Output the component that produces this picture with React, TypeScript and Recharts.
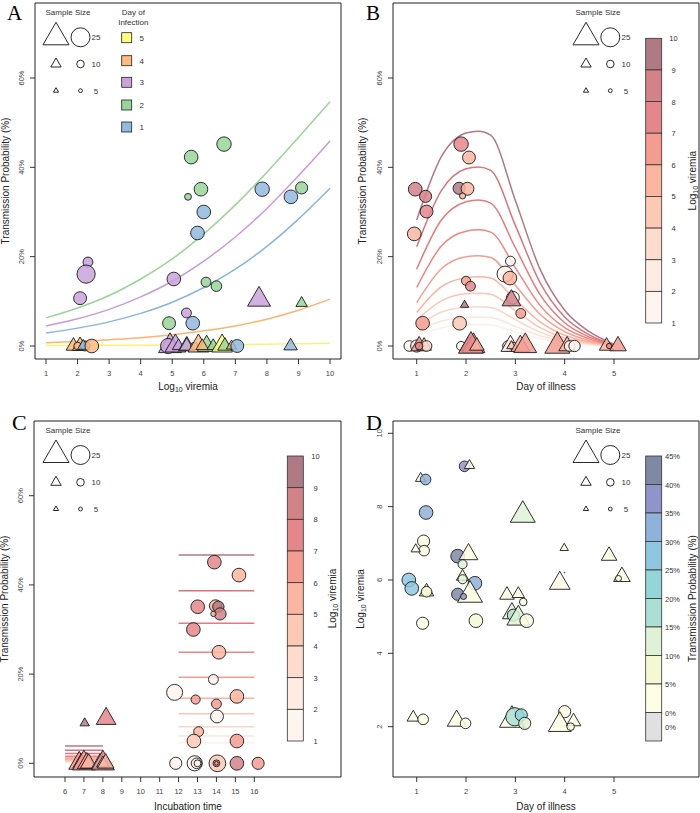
import React from 'react';
import { ComposedChart, Scatter, Line, XAxis, YAxis, ReferenceArea } from 'recharts';

const FONT = '"Liberation Sans", Arial, sans-serif';
const SERIF = '"Liberation Serif", "Times New Roman", serif';

// ---------- shared ----------
const pctTicks = [0, 20, 40, 60];
const sizeLegendValues = [25, 10, 5];
const viremiaLabels = [10, 9, 8, 7, 6, 5, 4, 3, 2, 1];
const probLabels = ['45%', '40%', '35%', '30%', '25%', '20%', '15%', '10%', '5%', '0%'];
const dayLabels = [5, 4, 3, 2, 1];

// ---------- Panel A ----------
const aXTicks = [1, 2, 3, 4, 5, 6, 7, 8, 9, 10];
const aCurveX = [1, 2, 3, 4, 5, 6, 7, 8, 9, 10];
const aCurveDay2 = [6.3, 8.5, 11.3, 15.0, 19.5, 25.1, 31.6, 38.9, 46.7, 54.7];
const aCurveDay3 = [4.5, 6.1, 8.2, 11.0, 14.5, 19.0, 24.4, 30.8, 38.1, 45.9];
const aCurveDay1 = [2.9, 4.0, 5.4, 7.3, 9.8, 13.1, 17.2, 22.3, 28.4, 35.3];
const aCurveDay4 = [0.75, 1.0, 1.4, 1.85, 2.5, 3.4, 4.5, 6.0, 8.0, 10.5];
const aCurveDay5 = [0.1, 0.12, 0.15, 0.18, 0.22, 0.27, 0.33, 0.4, 0.5, 0.6];
// [log10 viremia, probability %, sample size, shape, day of infection]
const aPoints: [number, number, number, string, number][] = [
  [6.64, 45.2, 19, 'c', 2], [5.6, 42.3, 18, 'c', 2], [5.91, 35.1, 18, 'c', 2], [5.5, 33.4, 9, 'c', 2],
  [7.85, 35.1, 19, 'c', 1], [8.76, 33.4, 18, 'c', 1], [9.1, 35.4, 16, 'c', 2], [6.0, 30.0, 18, 'c', 1],
  [5.8, 25.3, 18, 'c', 1], [2.33, 18.8, 13, 'c', 3], [2.27, 16.1, 24, 'c', 3], [2.08, 10.7, 17, 'c', 3],
  [5.05, 15.0, 18, 'c', 3], [6.07, 14.3, 13, 'c', 2], [6.4, 13.4, 14, 'c', 2], [5.45, 7.4, 13, 'c', 3],
  [4.9, 5.1, 17, 'c', 2], [5.65, 5.1, 18, 'c', 1], [7.75, 10.4, 22, 't', 3], [9.1, 9.6, 11, 't', 2],
  [1.87, 0, 14, 't', 4], [2.08, 0, 15, 't', 4], [2.0, 0, 10, 'c', 4], [2.24, 0, 13, 'c', 1],
  [2.18, 0, 11, 't', 1], [2.45, 0, 18, 'c', 4], [4.93, 0, 22, 't', 3], [4.87, 0, 20, 'c', 3],
  [5.1, 0, 20, 't', 3], [5.2, 0, 12, 't', 3], [5.46, 0, 16, 't', 2], [5.46, 0, 14, 't', 3],
  [5.7, 0, 10, 'c', 3], [5.83, 0, 20, 't', 4], [6.09, 0, 18, 't', 2], [5.95, 0, 12, 't', 4],
  [6.3, 0, 12, 't', 2], [6.58, 0, 20, 't', 5], [6.67, 0, 14, 't', 2], [6.88, 0, 10, 't', 4],
  [7.06, 0, 17, 'c', 1], [8.75, 0, 13, 't', 1],
];

// ---------- Panel B ----------
const bXTicks = [1, 2, 3, 4, 5];
const bCurveX = [1, 1.5, 2, 2.25, 2.5, 3, 3.5, 4, 4.5, 5];
const bCurveV10 = [28.2, 42.4, 47.7, 48.1, 47.2, 32.6, 17.2, 8.0, 3.2, 0.4];
const bCurveV9 = [22.2, 34.8, 39.7, 40.1, 39.3, 27.0, 14.2, 6.5, 2.5, 0.3];
const bCurveV8 = [17.2, 28.2, 32.3, 32.7, 32.0, 22.0, 11.5, 5.2, 2.0, 0.3];
const bCurveV7 = [13.1, 22.4, 25.7, 26.0, 25.5, 17.5, 9.1, 4.1, 1.6, 0.2];
const bCurveV6 = [9.7, 17.3, 20.0, 20.2, 19.8, 13.6, 7.1, 3.2, 1.2, 0.2];
const bCurveV5 = [7.5, 13.3, 15.3, 15.5, 15.2, 10.4, 5.4, 2.4, 0.9, 0.1];
const bCurveV4 = [5.8, 10.1, 11.7, 11.8, 11.6, 7.9, 4.1, 1.8, 0.7, 0.1];
const bCurveV3 = [4.3, 7.6, 8.7, 8.8, 8.6, 5.9, 3.1, 1.4, 0.5, 0.1];
const bCurveV2 = [3.2, 5.6, 6.4, 6.5, 6.4, 4.4, 2.3, 1.0, 0.4, 0.1];
const bCurveV1 = [2.4, 4.1, 4.75, 4.8, 4.7, 3.2, 1.7, 0.8, 0.3, 0.05];
// [day of illness, probability %, sample size, shape, log10 viremia]
const bPoints: [number, number, number, string, number][] = [
  [1.9, 45.2, 19, 'c', 7.5], [2.06, 42.2, 17, 'c', 5.5], [0.97, 35.1, 18, 'c', 8.3], [1.18, 33.5, 16, 'c', 8.5],
  [1.86, 35.3, 16, 'c', 9.5], [2.03, 35.2, 17, 'c', 5.5], [1.93, 33.6, 8, 'c', 5.5], [1.2, 30.1, 17, 'c', 7],
  [0.95, 25.1, 18, 'c', 5.5], [2.0, 14.6, 12, 'c', 6.5], [2.09, 13.4, 13, 'c', 7], [2.9, 19.0, 13, 'c', 1.5],
  [2.79, 16.1, 21, 'c', 1.5], [2.89, 15.2, 18, 'c', 5.5], [2.95, 10.8, 17, 'c', 1.5], [2.92, 10.2, 18, 't', 8.5],
  [1.97, 9.2, 8, 't', 9.5], [3.11, 7.3, 13, 'c', 6.5], [1.12, 5.1, 18, 'c', 6.5], [1.87, 5.1, 18, 'c', 4.5],
  [0.85, 0, 14, 'c', 1.5], [1.0, 0, 16, 'c', 2.5], [1.05, 0, 16, 't', 6.5], [1.15, 0, 14, 't', 5.5],
  [1.2, 0, 14, 'c', 3.5], [1.05, 0, 10, 'c', 7], [1.9, 0, 12, 'c', 1.5], [2.05, 0, 16, 't', 7],
  [2.15, 0, 22, 't', 6.5], [2.1, 0, 24, 't', 7.5], [2.22, 0, 14, 't', 5], [2.85, 0, 14, 'c', 3.5],
  [2.9, 0, 18, 't', 1.5], [2.95, 0, 10, 'c', 2.5], [2.92, 0, 9, 't', 4.5], [3.1, 0, 18, 't', 5.5],
  [3.2, 0, 22, 't', 6], [3.85, 0, 24, 't', 6], [4.05, 0, 16, 't', 5], [4.1, 0, 14, 'c', 1.5],
  [4.2, 0, 15, 'c', 1.5], [4.85, 0, 14, 't', 5.5], [4.9, 0, 7, 'c', 7], [5.08, 0, 16, 't', 6],
];

// ---------- Panel C ----------
const cXTicks = [6, 7, 8, 9, 10, 11, 12, 13, 14, 15, 16];
const cUpperRange = [12, 16];
const cUpperLevels = [46.7, 38.7, 31.4, 24.9, 19.3, 14.6, 11.1, 8.2, 6.1, 4.6];
const cLowerRange = [6, 8];
const cLowerLevels = [3.9, 2.9, 2.2, 1.6, 1.2, 0.9, 0.65, 0.5, 0.35, 0.25];
// [incubation time, probability %, sample size, shape, log10 viremia]
const cPoints: [number, number, number, string, number][] = [
  [13.89, 45.1, 18, 'c', 7], [15.19, 42.2, 18, 'c', 5.5], [13.01, 35.1, 18, 'c', 7.5], [13.95, 35.3, 16, 'c', 5.5],
  [14.1, 35.1, 15, 'c', 9.5], [14.19, 33.5, 16, 'c', 8], [13.84, 33.5, 7, 'c', 5.5], [12.78, 30.0, 18, 'c', 7],
  [14.13, 24.9, 18, 'c', 5.5], [13.84, 18.8, 13, 'c', 1.5], [11.79, 15.9, 21, 'c', 1.5], [12.9, 14.3, 12, 'c', 6.5],
  [15.08, 15.0, 18, 'c', 5.5], [14.0, 13.3, 13, 'c', 6.5], [14.03, 10.5, 17, 'c', 1.5], [13.06, 7.1, 13, 'c', 5.5],
  [12.81, 5.0, 18, 'c', 4.5], [15.08, 5.0, 18, 'c', 6], [7.04, 9.0, 9, 't', 9.5], [8.17, 10.0, 19, 't', 7.5],
  [6.75, 0, 20, 't', 6.5], [6.85, 0, 16, 't', 7.5], [7.0, 0, 22, 't', 6], [7.15, 0, 18, 't', 6.5],
  [7.25, 0, 16, 't', 5.5], [7.85, 0, 16, 't', 1.5], [8.0, 0, 22, 't', 8.5], [8.0, 0, 12, 't', 4.5],
  [8.15, 0, 16, 't', 5], [11.85, 0, 16, 'c', 1.5], [12.85, 0, 20, 'c', 1.5], [12.95, 0, 14, 'c', 2.5],
  [13.0, 0, 9, 'c', 1.5], [14.05, 0, 22, 'c', 4.5], [14.0, 0, 9, 'c', 7], [14.0, 0, 5, 'c', 6],
  [15.08, 0, 18, 'c', 8.5], [16.2, 0, 16, 'c', 6],
];

// ---------- Panel D ----------
const dYTicks = [2, 4, 6, 8, 10];
// [day of illness, log10 viremia, sample size, shape, probability %]
const dPoints: [number, number, number, string, number][] = [
  [1.97, 9.1, 14, 'c', 37], [2.07, 9.12, 10, 't', 2], [1.08, 8.77, 10, 't', 2], [1.18, 8.74, 14, 'c', 33],
  [1.19, 7.84, 18, 'c', 33], [3.15, 7.77, 24, 't', 12], [1.14, 7.06, 16, 'c', 3], [1.15, 6.8, 14, 'c', 3],
  [0.98, 6.84, 9, 't', 3], [1.83, 6.65, 18, 'c', 42], [2.05, 6.7, 18, 't', 3], [1.93, 6.43, 12, 'c', 14],
  [3.99, 6.87, 8, 't', 2], [4.9, 6.66, 15, 't', 2], [4.0, 6.2, 1, 'c', 2], [3.9, 5.91, 20, 't', 2],
  [5.16, 6.09, 16, 't', 2], [5.09, 6.04, 8, 'c', 5], [1.93, 6.09, 12, 't', 7], [1.93, 6.02, 12, 'c', 13],
  [2.18, 5.91, 18, 'c', 33], [0.84, 6.0, 18, 'c', 27], [0.9, 5.77, 18, 'c', 27], [1.2, 5.68, 14, 't', 7],
  [1.2, 5.68, 14, 'c', 7], [1.83, 5.61, 16, 'c', 42], [2.08, 5.59, 24, 't', 3], [1.95, 5.55, 8, 'c', 35],
  [2.83, 5.59, 14, 't', 3], [3.06, 5.62, 12, 't', 3], [3.16, 5.4, 10, 'c', 3], [2.93, 5.09, 18, 't', 12],
  [2.96, 5.04, 16, 'c', 15], [3.06, 4.95, 22, 't', 10], [3.23, 4.89, 18, 'c', 3], [1.12, 4.82, 16, 'c', 3],
  [2.2, 4.89, 18, 'c', 6], [0.93, 2.25, 12, 't', 2], [1.13, 2.2, 14, 'c', 3], [1.81, 2.16, 18, 't', 3],
  [1.99, 2.09, 14, 'c', 3], [2.93, 2.18, 24, 't', 3], [2.99, 2.27, 24, 'c', 19], [3.12, 2.32, 16, 'c', 22],
  [3.19, 2.09, 16, 'c', 12], [4.0, 2.41, 16, 'c', 3], [3.9, 2.05, 22, 't', 2], [4.18, 2.14, 14, 't', 2],
  [4.12, 2.0, 10, 'c', 2],
];

// ---------- colours ----------
const dayFill: Record<number, string> = { 1: '#92b9df', 2: '#98d598', 3: '#c9a3da', 4: '#fdbb80', 5: '#ffff80' };
const dayLine: Record<number, string> = { 1: '#88b4e0', 2: '#98d598', 3: '#c89bd8', 4: '#fdb46e', 5: '#f7f37a' };
const viremiaBins = ['#fff5f0', '#feebe2', '#fddbcd', '#fcc9b5', '#fbb5a0', '#f59c90', '#e5868a', '#d38288', '#b07a84'];
const curveColors = ['#fff0ea', '#fee4da', '#fdd5c8', '#fcc5b4', '#fab3a1', '#f79c8e', '#f08680', '#e67a7c', '#d8747c', '#b27884'];
const probBins = ['#fefee4', '#f4f9d3', '#e0f2d6', '#abdfd3', '#93d5d9', '#8ec8e0', '#8fb1da', '#9094c8', '#7f89a6'];
const probZero = '#e0e0e0';

const vColor = (v: number) => viremiaBins[Math.min(8, Math.max(0, Math.floor(v) - 1))];
const pColor = (p: number) => (p <= 0 ? probZero : probBins[Math.min(8, Math.floor(p / 5))]);

const toPts = (arr: [number, number, number, string, number][]) =>
  arr.map(([x, y, n, s, k]) => ({ x, y, n, s, k }));

const triPoints = (cx: number, cy: number, n: number) => {
  const s = n * 1.04;
  const h = s * 0.866;
  return `${cx},${cy - (2 * h) / 3} ${cx - s / 2},${cy + h / 3} ${cx + s / 2},${cy + h / 3}`;
};

const makeShape = (colorFn: (k: number) => string) => (props: any) => {
  const { cx, cy, payload } = props;
  if (cx == null || cy == null || !payload) return <g />;
  const fill = colorFn(payload.k);
  if (payload.s === 't') {
    return <polygon points={triPoints(cx, cy, payload.n)} fill={fill} fillOpacity={0.85} stroke="#1a1a1a" strokeWidth={0.9} />;
  }
  return <circle cx={cx} cy={cy} r={payload.n * 0.38} fill={fill} fillOpacity={0.85} stroke="#1a1a1a" strokeWidth={0.9} />;
};

const XTick = (p: any) => (
  <text x={p.x} y={p.y + 10} textAnchor="middle" fontSize={7.5} fill="#444" fontFamily={FONT}>
    {p.payload.value}
  </text>
);
const makeYTick = (fmt: (v: number) => string) => (p: any) => (
  <text transform={`translate(${p.x - 4},${p.y}) rotate(-90)`} textAnchor="middle" fontSize={7.5} fill="#444" fontFamily={FONT}>
    {fmt(p.payload.value)}
  </text>
);

type LineSpec = { color: string; data: { x: number; y: number }[]; width?: number; type?: string };

function Panel(props: {
  left: number; top: number; width: number; height: number;
  margin: { top: number; right: number; bottom: number; left: number };
  yAxisWidth: number; xAxisHeight: number;
  xDomain: [number, number]; yDomain: [number, number];
  xTicks: number[]; yTicks: number[]; yFmt: (v: number) => string;
  points: any[]; colorFn: (k: number) => string; lines: LineSpec[];
}) {
  const { xDomain, yDomain } = props;
  return (
    <div style={{ position: 'absolute', left: props.left, top: props.top }}>
      <ComposedChart width={props.width} height={props.height} margin={props.margin}>
        <XAxis type="number" dataKey="x" domain={xDomain} ticks={props.xTicks} allowDataOverflow interval={0}
          height={props.xAxisHeight} axisLine={false} tickSize={5} tickLine={{ stroke: '#333' }} tick={XTick} />
        <YAxis type="number" dataKey="y" domain={yDomain} ticks={props.yTicks} allowDataOverflow interval={0}
          width={props.yAxisWidth} axisLine={false} tickSize={5} tickLine={{ stroke: '#333' }} tick={makeYTick(props.yFmt)} />
        <ReferenceArea x1={xDomain[0]} x2={xDomain[1]} y1={yDomain[0]} y2={yDomain[1]} fill="none" fillOpacity={0}
          stroke="#222" strokeWidth={1} ifOverflow="visible" />
        <Scatter data={props.points} shape={makeShape(props.colorFn)} isAnimationActive={false} />
        {props.lines.map((l, i) => (
          <Line key={i} data={l.data} dataKey="y" stroke={l.color} strokeWidth={l.width ?? 1.5} dot={false}
            activeDot={false} type={(l.type as any) ?? 'monotone'} isAnimationActive={false} />
        ))}
      </ComposedChart>
    </div>
  );
}

function SizeLegend({ tx, cx, lx, ys, titleX, titleY }: { tx: number; cx: number; lx: number; ys: number[]; titleX: number; titleY: number }) {
  return (
    <g>
      <text x={titleX} y={titleY} textAnchor="middle" fontSize={8} fill="#333">Sample Size</text>
      {sizeLegendValues.map((n, i) => (
        <g key={n}>
          <polygon points={triPoints(tx, ys[i], n)} fill="#fff" stroke="#111" strokeWidth={0.9} />
          <circle cx={cx} cy={ys[i]} r={n * 0.38} fill="#fff" stroke="#111" strokeWidth={0.9} />
          <text x={lx} y={ys[i] + 3} textAnchor="middle" fontSize={8} fill="#333">{n}</text>
        </g>
      ))}
    </g>
  );
}

function ViremiaBar({ x, top, bottom, labelX, titleX }: { x: number; top: number; bottom: number; labelX: number; titleX: number }) {
  const seg = (bottom - top) / 9;
  return (
    <g>
      {viremiaBins.slice().reverse().map((c, i) => (
        <rect key={i} x={x} y={top + i * seg} width={16} height={seg} fill={c} stroke="#333" strokeWidth={0.8} />
      ))}
      {viremiaLabels.map((v, i) => (
        <text key={v} x={labelX} y={top + i * seg + 3} textAnchor="middle" fontSize={7.5} fill="#333">{v}</text>
      ))}
      <text transform={`translate(${titleX},${(top + bottom) / 2}) rotate(-90)`} textAnchor="middle" fontSize={10} fill="#222">
        Log<tspan fontSize={7} dy={2}>10</tspan><tspan dy={-2}> viremia</tspan>
      </text>
    </g>
  );
}

function ProbBar({ x, top, bottom, labelX, titleX }: { x: number; top: number; bottom: number; labelX: number; titleX: number }) {
  const seg = (bottom - top) / 10;
  const cols = probBins.slice().reverse().concat([probZero]);
  return (
    <g>
      {cols.map((c, i) => (
        <rect key={i} x={x} y={top + i * seg} width={16} height={seg} fill={c} stroke="#333" strokeWidth={0.8} />
      ))}
      {probLabels.map((l, i) => (
        <text key={i} x={labelX} y={top + i * seg + 3} fontSize={7.5} fill="#333">{l}</text>
      ))}
      <text x={labelX} y={top + 9.5 * seg + 3} fontSize={7.5} fill="#333">0%</text>
      <text transform={`translate(${titleX},${(top + bottom) / 2}) rotate(-90)`} textAnchor="middle" fontSize={10} fill="#222">
        Transmission Probability (%)
      </text>
    </g>
  );
}

const pct = (v: number) => `${v}%`;
const plain = (v: number) => `${v}`;

export default function App() {
  const aLines: LineSpec[] = [
    { color: dayLine[5], data: aCurveX.map((x, i) => ({ x, y: aCurveDay5[i] })) },
    { color: dayLine[4], data: aCurveX.map((x, i) => ({ x, y: aCurveDay4[i] })) },
    { color: dayLine[1], data: aCurveX.map((x, i) => ({ x, y: aCurveDay1[i] })) },
    { color: dayLine[3], data: aCurveX.map((x, i) => ({ x, y: aCurveDay3[i] })) },
    { color: dayLine[2], data: aCurveX.map((x, i) => ({ x, y: aCurveDay2[i] })) },
  ];
  const bCurves = [bCurveV1, bCurveV2, bCurveV3, bCurveV4, bCurveV5, bCurveV6, bCurveV7, bCurveV8, bCurveV9, bCurveV10];
  const bLines: LineSpec[] = bCurves.map((ys, i) => ({
    color: curveColors[i], data: bCurveX.map((x, j) => ({ x, y: ys[j] })),
  }));
  const cLines: LineSpec[] = [
    ...cLowerLevels.slice().reverse().map((lv, i) => ({
      color: curveColors[i], type: 'linear', data: cLowerRange.map((x) => ({ x, y: lv })),
    })),
    ...cUpperLevels.slice().reverse().map((lv, i) => ({
      color: curveColors[i], type: 'linear', data: cUpperRange.map((x) => ({ x, y: lv })),
    })),
  ];

  return (
    <div style={{ position: 'absolute', left: 0, top: 0, width: 700, height: 813, background: '#fff', fontFamily: FONT }}>
      <Panel left={0} top={0} width={350} height={400} margin={{ top: 3, right: 9, bottom: 0, left: 0 }}
        yAxisWidth={35} xAxisHeight={41} xDomain={[0.651, 10.348]} yDomain={[-2.91, 76.79]}
        xTicks={aXTicks} yTicks={pctTicks} yFmt={pct} points={toPts(aPoints)} colorFn={(k) => dayFill[k]} lines={aLines} />
      <Panel left={350} top={0} width={350} height={400} margin={{ top: 3, right: 1, bottom: 0, left: 0 }}
        yAxisWidth={43} xAxisHeight={41} xDomain={[0.5195, 6.723]} yDomain={[-2.91, 76.79]}
        xTicks={bXTicks} yTicks={pctTicks} yFmt={pct} points={toPts(bPoints)} colorFn={vColor} lines={bLines} />
      <Panel left={0} top={400} width={350} height={413} margin={{ top: 21, right: 9, bottom: 0, left: 0 }}
        yAxisWidth={34} xAxisHeight={36} xDomain={[4.362, 20.58]} yDomain={[-3.07, 76.75]}
        xTicks={cXTicks} yTicks={pctTicks} yFmt={pct} points={toPts(cPoints)} colorFn={vColor} lines={cLines} />
      <Panel left={350} top={400} width={350} height={413} margin={{ top: 21, right: 1, bottom: 0, left: 0 }}
        yAxisWidth={43} xAxisHeight={36} xDomain={[0.5195, 6.723]} yDomain={[0.628, 10.335]}
        xTicks={bXTicks} yTicks={dYTicks} yFmt={plain} points={toPts(dPoints)} colorFn={pColor} lines={[]} />

      <svg width={700} height={813} style={{ position: 'absolute', left: 0, top: 0, pointerEvents: 'none' }} fontFamily={FONT}>
        {/* panel letters */}
        <text x={7} y={20} fontSize={21} fontFamily={SERIF} fill="#000">A</text>
        <text x={366} y={19.5} fontSize={21} fontFamily={SERIF} fill="#000">B</text>
        <text x={12} y={430} fontSize={22} fontFamily={SERIF} fill="#000">C</text>
        <text x={366} y={430} fontSize={22} fontFamily={SERIF} fill="#000">D</text>

        {/* axis titles */}
        <text transform="translate(8.5,181) rotate(-90)" textAnchor="middle" fontSize={10} fill="#222">Transmission Probability (%)</text>
        <text transform="translate(366,181) rotate(-90)" textAnchor="middle" fontSize={10} fill="#222">Transmission Probability (%)</text>
        <text transform="translate(8,599) rotate(-90)" textAnchor="middle" fontSize={10} fill="#222">Transmission Probability (%)</text>
        <text transform="translate(364,599) rotate(-90)" textAnchor="middle" fontSize={10} fill="#222">
          Log<tspan fontSize={7} dy={2}>10</tspan><tspan dy={-2}> viremia</tspan>
        </text>
        <text x={188} y={390} textAnchor="middle" fontSize={10} fill="#222">
          Log<tspan fontSize={7} dy={2}>10</tspan><tspan dy={-2}> viremia</tspan>
        </text>
        <text x={546} y={390} textAnchor="middle" fontSize={10} fill="#222">Day of illness</text>
        <text x={188} y={810} textAnchor="middle" fontSize={10} fill="#222">Incubation time</text>
        <text x={546} y={810} textAnchor="middle" fontSize={10} fill="#222">Day of illness</text>

        {/* sample size legends */}
        <SizeLegend tx={56} cx={80.5} lx={96} ys={[37.3, 64, 90.7]} titleX={68} titleY={15} />
        <SizeLegend tx={586} cx={610.3} lx={626} ys={[37.3, 64, 90.7]} titleX={598} titleY={15} />
        <SizeLegend tx={56} cx={80.5} lx={96} ys={[455, 482.3, 509]} titleX={68} titleY={433} />
        <SizeLegend tx={586} cx={610.3} lx={626} ys={[455, 482.3, 509]} titleX={598} titleY={433} />

        {/* day of infection legend */}
        <text x={133.3} y={15} textAnchor="middle" fontSize={8} fill="#333">Day of</text>
        <text x={133.3} y={25} textAnchor="middle" fontSize={8} fill="#333">Infection</text>
        {dayLabels.map((d, i) => {
          const y = [37.7, 60.7, 82.3, 105, 127][i];
          return (
            <g key={d}>
              <rect x={121.7} y={y - 5} width={10} height={10} fill={dayFill[d]} stroke="#222" strokeWidth={0.8} />
              <text x={141.7} y={y + 3} textAnchor="middle" fontSize={8} fill="#333">{d}</text>
            </g>
          );
        })}

        {/* colour bars */}
        <ViremiaBar x={645.7} top={38.3} bottom={323} labelX={673.5} titleX={695.5} />
        <ViremiaBar x={287.3} top={456} bottom={741} labelX={315.5} titleX={335.5} />
        <ProbBar x={645.7} top={456} bottom={741} labelX={665} titleX={695.5} />
      </svg>
    </div>
  );
}
